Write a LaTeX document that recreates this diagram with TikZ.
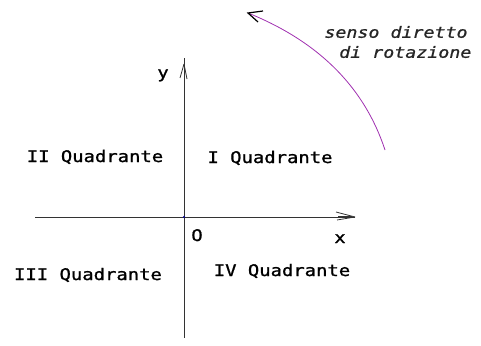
\documentclass[tikz,border=0pt]{standalone}
\usepackage{fontspec}
\newfontfamily\monofont[FakeStretch=1.18,FakeBold=1.2]{DejaVu Sans Mono}
\newfontfamily\monoit[FakeStretch=1.18,FakeBold=0.8]{DejaVu Sans Mono Oblique}
\definecolor{axiscol}{HTML}{333333}
\definecolor{arccol}{HTML}{A030B0}
\begin{document}
\begin{tikzpicture}[x=1pt,y=-1pt,
  lab/.style={font=\monofont\fontsize{16}{18}\selectfont, inner sep=0pt, anchor=base},
  note/.style={font=\monoit\fontsize{15.5}{20}\selectfont, inner sep=0pt, align=center, text=black!85},
  axis/.style={draw=axiscol, line width=0.8pt},
  sketch/.style={draw=axiscol, line width=0.8pt}]
\useasboundingbox (0,0) rectangle (481,345);
% axes
\coordinate (xl) at (35,217);
\coordinate (xr) at (355,217);
\coordinate (yt) at (184,58);
\coordinate (yb) at (184,338);
\coordinate (O) at (184,217);
\draw[axis] (xl) -- (xr);
\draw[axis] (yt) -- (yb);
% sketchy arrowheads
\draw[sketch] (xr) -- (336,212);
\draw[sketch] (xr) -- (337,220);
\draw[sketch] (352,216) -- (338,216);
\draw[sketch] (184,64) -- (180,78);
\draw[sketch] (184,64) -- (187,79);
\fill[blue!60!black] (O) circle (1.2pt);
% labels
\node[lab] (lo) at (197,241) {O};
\node[lab] (lx) at (340,243) {x};
\node[lab] (ly) at (163,78) {y};
\node[lab] (q2) at (95,162) {II Quadrante};
\node[lab] (q1) at (270,163) {I Quadrante};
\node[lab] (q3) at (88,280) {III Quadrante};
\node[lab] (q4) at (282,276) {IV Quadrante};
\node[note] (nt) at (396,42) {senso diretto\\\hspace*{1.2em}di rotazione};
% rotation arrow
\coordinate (as) at (385,150);
\coordinate (ae) at (248,13);
\draw[arccol, line width=0.8pt] (as) .. controls (362,80) and (310,38) .. (ae);
\draw[black, line width=1.2pt] (263,11) -- (ae) -- (258,22);
\end{tikzpicture}
\end{document}
